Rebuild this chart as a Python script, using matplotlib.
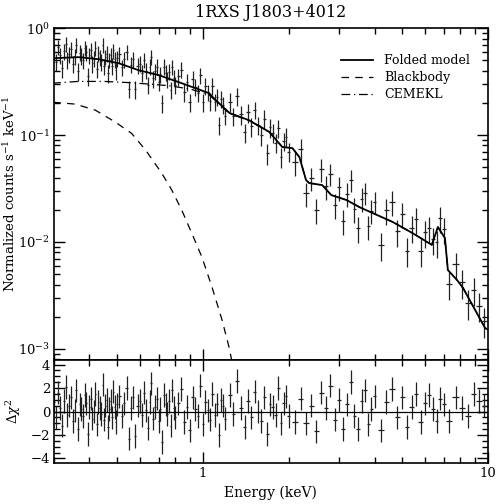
import numpy as np
import matplotlib as mpl
mpl.use('Agg')
import matplotlib.pyplot as plt
from matplotlib.ticker import LogLocator, MultipleLocator, FixedLocator, FixedFormatter, NullFormatter

plt.rcParams['font.family'] = 'DejaVu Serif'
plt.rcParams['mathtext.fontset'] = 'dejavuserif'

# spectrum bins (keV)
energy = [0.300, 0.305, 0.310, 0.315, 0.320, 0.325, 0.330, 0.335, 0.340, 0.345,
          0.350, 0.355, 0.360, 0.365, 0.370, 0.375, 0.380, 0.385, 0.390, 0.395,
          0.400, 0.405, 0.410, 0.415, 0.420, 0.425, 0.430, 0.435, 0.440, 0.445,
          0.450, 0.455, 0.460, 0.465, 0.470, 0.475, 0.480, 0.485, 0.490, 0.495, 0.500,
          0.51, 0.52, 0.53, 0.54, 0.55, 0.56, 0.57, 0.58, 0.59, 0.60,
          0.61, 0.62, 0.63, 0.64, 0.65, 0.66, 0.67, 0.68, 0.69, 0.70,
          0.71, 0.72, 0.73, 0.74, 0.75, 0.76, 0.77, 0.78, 0.79, 0.80,
          0.82, 0.84, 0.86, 0.88, 0.90, 0.92, 0.94, 0.96, 0.98, 1.00,
          1.02, 1.04, 1.06, 1.08, 1.10, 1.12, 1.14, 1.16, 1.18, 1.20,
          1.24, 1.28, 1.32, 1.36, 1.40, 1.44, 1.48, 1.52, 1.56, 1.60,
          1.64, 1.68, 1.72, 1.76, 1.80, 1.84, 1.88, 1.92, 1.96, 2.00,
          2.1, 2.2, 2.3, 2.4, 2.5, 2.6, 2.7, 2.8, 2.9, 3.0,
          3.1, 3.2, 3.3, 3.4, 3.5, 3.6, 3.7, 3.8, 3.9, 4.0,
          4.2, 4.4, 4.6, 4.8, 5.0, 5.2, 5.4, 5.6, 5.8, 6.0, 6.2, 6.4, 6.6, 6.8, 7.0,
          7.3, 7.7, 8.1, 8.5, 8.9, 9.3, 9.7]

rate = [0.602, 0.485, 0.674, 0.557, 0.422, 0.611, 0.719, 0.503, 0.575, 0.644,
        0.462, 0.544, 0.699, 0.399, 0.590, 0.553, 0.499, 0.660, 0.594, 0.358,
        0.563, 0.623, 0.469, 0.519, 0.649, 0.419, 0.583, 0.536, 0.490, 0.701,
        0.441, 0.540, 0.579, 0.383, 0.506, 0.560, 0.443, 0.620, 0.512, 0.404, 0.523,
        0.574, 0.432, 0.510, 0.602, 0.269, 0.456, 0.513, 0.269, 0.446, 0.467,
        0.381, 0.505, 0.400, 0.296, 0.437, 0.536, 0.339, 0.397, 0.437, 0.314,
        0.372, 0.199, 0.436, 0.385, 0.333, 0.392, 0.267, 0.432, 0.344, 0.296,
        0.355, 0.411, 0.251, 0.313, 0.203, 0.338, 0.282, 0.247, 0.363, 0.205,
        0.287, 0.252, 0.208, 0.290, 0.205, 0.227, 0.124, 0.218, 0.193, 0.152,
        0.206, 0.151, 0.233, 0.157, 0.106, 0.164, 0.121, 0.173, 0.124, 0.101,
        0.143, 0.068, 0.118, 0.105, 0.085, 0.116, 0.063, 0.088, 0.0964, 0.0699,
        0.0558, 0.0740, 0.0285, 0.0398, 0.0200, 0.0479, 0.0333, 0.0434, 0.0221, 0.0325,
        0.0158, 0.0283, 0.0384, 0.0203, 0.0134, 0.0255, 0.0290, 0.0140, 0.0196, 0.0239,
        0.0094, 0.0198, 0.0237, 0.0126, 0.0184, 0.0083, 0.0136, 0.0163, 0.0082, 0.0123,
        0.0135, 0.0106, 0.0099, 0.0167, 0.0132,
        0.00407, 0.00619, 0.00420, 0.00269, 0.00354, 0.00254, 0.00184]

# fractional 1-sigma errors
frac_err = [0.17, 0.18, 0.16, 0.17, 0.19, 0.17, 0.16, 0.18, 0.17, 0.16,
            0.18, 0.17, 0.16, 0.19, 0.17, 0.18, 0.17, 0.16, 0.17, 0.19,
            0.17, 0.16, 0.18, 0.17, 0.16, 0.18, 0.17, 0.17, 0.18, 0.16,
            0.18, 0.17, 0.17, 0.19, 0.17, 0.16, 0.18, 0.16, 0.17, 0.18, 0.17,
            0.17, 0.18, 0.17, 0.16, 0.18, 0.17, 0.17, 0.19, 0.17, 0.17,
            0.18, 0.16, 0.17, 0.18, 0.17, 0.16, 0.18, 0.17, 0.17, 0.18,
            0.17, 0.19, 0.17, 0.17, 0.18, 0.17, 0.18, 0.16, 0.17, 0.18,
            0.18, 0.17, 0.19, 0.18, 0.19, 0.18, 0.18, 0.18, 0.17, 0.19,
            0.18, 0.18, 0.19, 0.18, 0.18, 0.18, 0.20, 0.18, 0.18, 0.19,
            0.20, 0.20, 0.19, 0.20, 0.21, 0.20, 0.20, 0.19, 0.20, 0.21,
            0.20, 0.22, 0.20, 0.20, 0.20, 0.19, 0.21, 0.20, 0.20, 0.20,
            0.25, 0.24, 0.26, 0.25, 0.27, 0.24, 0.25, 0.23, 0.26, 0.25,
            0.27, 0.25, 0.23, 0.26, 0.27, 0.25, 0.24, 0.26, 0.25, 0.24,
            0.29, 0.27, 0.26, 0.28, 0.27, 0.30, 0.28, 0.27, 0.29, 0.28,
            0.27, 0.28, 0.29, 0.27, 0.28,
            0.30, 0.28, 0.30, 0.31, 0.29, 0.30, 0.31]

# bin half-widths per energy band (keV) and number of bins in each band
band_halfwidth = [0.0025, 0.005, 0.01, 0.02, 0.05, 0.1, 0.2]
band_nbins = [41, 30, 20, 20, 20, 15, 7]

resid = [0.8, -0.5, 1.6, 0.3, -1.2, 0.9, 2.1, -0.3, 0.5, 1.2,
         -0.8, 0.1, 1.8, -1.5, 0.6, 0.2, -0.4, 1.4, 0.7, -1.9,
         0.4, 1.1, -0.6, 0.0, 1.5, -1.1, 0.8, 0.3, -0.2, 2.3,
         -0.7, 0.5, 1.0, -1.3, 0.2, 0.9, -0.5, 1.7, 0.4, -0.9, 0.6,
         1.3, -0.4, 0.7, 2.0, -2.3, 0.3, 1.2, -2.1, 0.5, 0.9,
         -0.3, 1.6, 0.1, -1.4, 0.8, 2.4, -0.6, 0.4, 1.1, -0.8,
         0.2, -2.6, 1.4, 0.6, -0.2, 0.9, -1.2, 1.8, 0.3, -0.5,
         0.7, 1.9, -0.9, 0.4, -1.6, 1.2, 0.2, -0.4, 2.2, -1.1,
         0.8, 0.1, -0.7, 1.5, -0.3, 0.6, -2.0, 1.0, 0.5, -0.6,
         1.4, -0.2, 2.6, 0.3, -1.3, 0.9, -0.5, 1.7, 0.0, -0.8,
         1.2, -1.9, 0.6, 0.4, -0.3, 2.0, -1.0, 0.7, 1.3, -0.4,
         -0.9, 1.1, -1.0, 0.5, -1.7, 1.6, 0.3, 2.2, -0.7, 1.0,
         -1.5, 0.6, 2.5, -0.4, -1.5, 0.9, 1.8, -1.1, 0.2, 1.3,
         -1.6, 0.8, 1.9, -0.5, 1.2, -1.3, 0.4, 1.5, -0.9, 0.7,
         1.4, 0.2, -0.8, 1.1, 0.6,
         -0.8, 1.2, 0.3, -0.4, 1.5, 0.9, 0.5]

# folded model
model_e = [0.296, 0.366, 0.430, 0.506, 0.595, 0.700, 0.843, 1.05, 1.11, 1.24,
           1.45, 1.71, 1.90, 2.06, 2.18, 2.30, 2.36, 2.62, 2.82, 3.19,
           3.54, 4.63, 5.44, 6.35, 6.67, 7.06, 7.23, 7.78, 8.17, 9.76, 10.0]
model_v = [0.524, 0.536, 0.513, 0.471, 0.405, 0.364, 0.306, 0.247, 0.212, 0.161,
           0.138, 0.107, 0.0773, 0.0756, 0.0623, 0.0380, 0.0356, 0.0341, 0.0275, 0.0247,
           0.0212, 0.0154, 0.0121, 0.0094, 0.0138, 0.0109, 0.00547, 0.00442, 0.00372, 0.00157, 0.00151]

# blackbody component
bb_e = [0.299, 0.357, 0.420, 0.494, 0.562, 0.630, 0.717, 0.778, 0.843, 0.914,
        0.992, 1.076, 1.167, 1.235, 1.265]
bb_v = [0.203, 0.195, 0.171, 0.132, 0.104, 0.0724, 0.0441, 0.0306, 0.0199, 0.0121,
        0.00724, 0.00380, 0.00187, 0.00104, 0.00076]

# CEMEKL component
cem_e = [0.296, 0.366, 0.450, 0.550, 0.650, 0.760, 0.900, 1.05, 1.11, 1.24,
         1.45, 1.71, 1.90, 2.06, 2.18, 2.30, 2.36, 2.62, 2.82, 3.19,
         3.54, 4.63, 5.44, 6.35, 6.67, 7.06, 7.23, 7.78, 8.17, 9.76, 10.0]
cem_v = [0.306, 0.318, 0.318, 0.310, 0.300, 0.290, 0.270, 0.240, 0.208, 0.159,
         0.137, 0.107, 0.0773, 0.0756, 0.0623, 0.0380, 0.0356, 0.0341, 0.0275, 0.0247,
         0.0212, 0.0154, 0.0121, 0.0094, 0.0138, 0.0109, 0.00547, 0.00442, 0.00372, 0.00157, 0.00151]

energy = np.array(energy)
rate = np.array(rate)
yerr = rate * np.array(frac_err)
xerr = np.repeat(band_halfwidth, band_nbins)

fig = plt.figure(figsize=(4.98, 5.04), dpi=100)
ax1 = fig.add_axes([0.108, 0.286, 0.872, 0.658])
ax2 = fig.add_axes([0.108, 0.081, 0.872, 0.205], sharex=ax1)

ax1.errorbar(energy, rate, yerr=yerr, xerr=xerr, fmt='none', ecolor='#222222', elinewidth=0.9, capsize=0)
ax1.plot(model_e, model_v, color='k', lw=1.3, label='Folded model')
ax1.plot(bb_e, bb_v, color='k', lw=0.9, ls=(0, (6, 5)), label='Blackbody')
ax1.plot(cem_e, cem_v, color='k', lw=0.9, ls=(0, (7, 3, 1, 3)), label='CEMEKL')

ax1.set_xscale('log')
ax1.set_yscale('log')
ax1.set_xlim(0.3, 10)
ax1.set_ylim(7.9e-4, 1.0)
ax1.set_ylabel('Normalized counts s$^{-1}$ keV$^{-1}$', fontsize=9.5)
ax1.yaxis.set_label_coords(-0.083, 0.5)
ax1.set_title('1RXS J1803+4012', fontsize=11.5, pad=8)
ax1.legend(loc='upper right', bbox_to_anchor=(0.985, 0.955), frameon=False, fontsize=9,
           handlelength=2.6, handletextpad=0.9, labelspacing=0.3)

ax2.errorbar(energy, resid, yerr=1.0, xerr=xerr, fmt='none', ecolor='#222222', elinewidth=0.9, capsize=0)
ax2.axhline(0, color='k', lw=0.9)
ax2.set_ylim(-4.4, 4.4)
ax2.set_xlabel('Energy (keV)', fontsize=10)
ax2.set_ylabel(r'$\Delta\chi^2$', fontsize=9.5)
ax2.yaxis.set_label_coords(-0.072, 0.5)
ax2.yaxis.set_major_locator(MultipleLocator(2))
ax2.yaxis.set_minor_locator(MultipleLocator(0.5))

ax2.xaxis.set_major_locator(FixedLocator([1, 10]))
ax2.xaxis.set_major_formatter(FixedFormatter(['1', '10']))
ax2.xaxis.set_minor_locator(LogLocator(base=10, subs=np.arange(2, 10)))
ax2.xaxis.set_minor_formatter(NullFormatter())
plt.setp(ax1.get_xticklabels(), visible=False)
ax1.yaxis.set_major_locator(LogLocator(base=10, numticks=10))
ax1.yaxis.set_minor_locator(LogLocator(base=10, subs=np.arange(2, 10), numticks=20))
ax1.yaxis.set_minor_formatter(NullFormatter())

for ax in (ax1, ax2):
    ax.tick_params(which='both', direction='in', top=True, right=True, labelsize=9.5, width=1, pad=2.5)
    ax.tick_params(which='major', length=8)
    ax.tick_params(which='minor', length=4)
    for s in ax.spines.values():
        s.set_linewidth(1.2)

plt.savefig('out.png', dpi=100)
